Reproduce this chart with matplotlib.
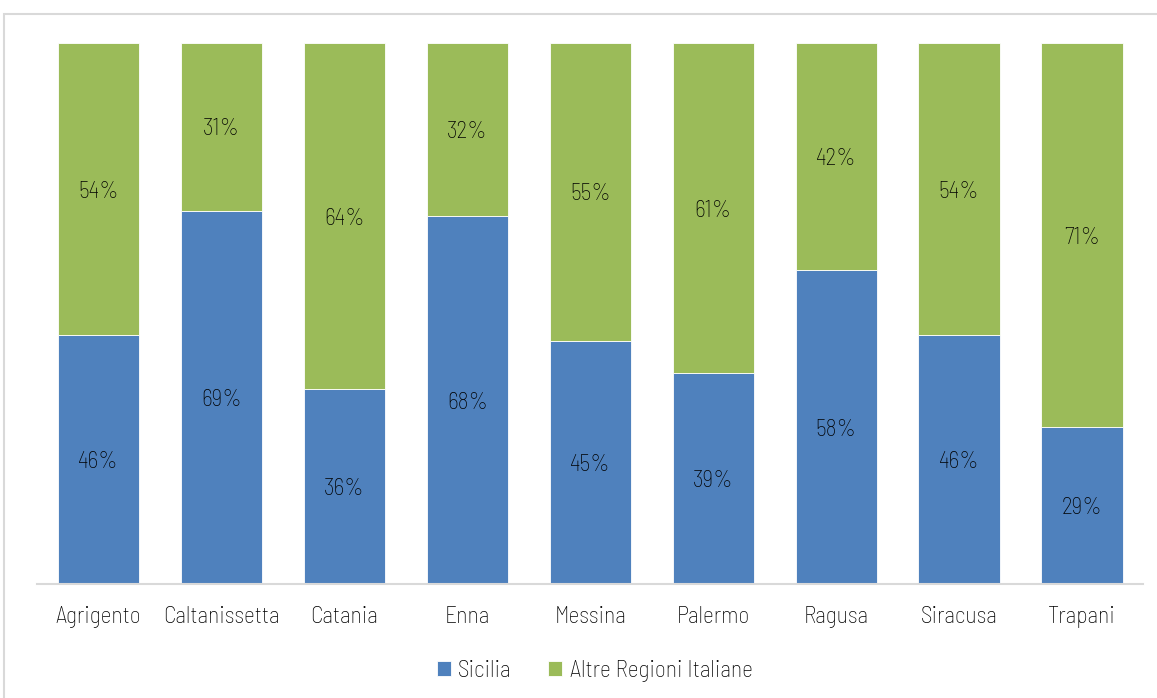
import matplotlib
matplotlib.use("Agg")
import matplotlib.pyplot as plt
from matplotlib.patches import Rectangle

provinces = ["Agrigento", "Caltanissetta", "Catania", "Enna", "Messina",
             "Palermo", "Ragusa", "Siracusa", "Trapani"]
sicilia = [46, 69, 36, 68, 45, 39, 58, 46, 29]
altre_regioni = [54, 31, 64, 32, 55, 61, 42, 54, 71]
series_names = ["Sicilia", "Altre Regioni Italiane"]

BLUE = "#4F81BD"
GREEN = "#9BBB59"
TEXT = "#000000"

plt.rcParams["font.family"] = ["Barlow Semi Condensed", "DejaVu Sans"]
plt.rcParams["font.weight"] = "light"

fig = plt.figure(figsize=(11.57, 6.98), dpi=100)

# light grey chart frame
fig.patches.append(Rectangle((0.0035, -0.05), 1.2, 1.03, transform=fig.transFigure,
                             fill=False, edgecolor="#d9d9d9", linewidth=1.5))

ax = fig.add_axes([0.032, 0.1633, 0.9563, 0.775])
x = range(len(provinces))
b1 = ax.bar(x, sicilia, width=0.66, color=BLUE, edgecolor="white", linewidth=0.6,
            label=series_names[0])
b2 = ax.bar(x, altre_regioni, width=0.66, bottom=sicilia, color=GREEN,
            edgecolor="white", linewidth=0.6, label=series_names[1])

for bars in (b1, b2):
    texts = ax.bar_label(bars, labels=[f"{int(b.get_height())}%" for b in bars],
                         label_type="center", fontsize=17, color=TEXT)
    for t in texts:
        t.set_verticalalignment("center_baseline")

ax.set_xlim(-0.5, len(provinces) - 0.5)
ax.set_ylim(0, 100)
ax.set_yticks([])
ax.set_xticks(list(x))
ax.set_xticklabels(provinces, fontsize=17, color=TEXT)
ax.tick_params(axis="x", length=0, pad=16)
for side in ("top", "right", "left"):
    ax.spines[side].set_visible(False)
ax.spines["bottom"].set_color("#d9d9d9")
ax.spines["bottom"].set_linewidth(1.5)

fig.legend(handles=[b1, b2], loc="center", bbox_to_anchor=(0.514, 0.039), ncol=2,
           frameon=False, fontsize=17, handlelength=0.6, handleheight=0.6,
           handletextpad=0.3, columnspacing=1.55)

fig.savefig("out.png", dpi=100)
